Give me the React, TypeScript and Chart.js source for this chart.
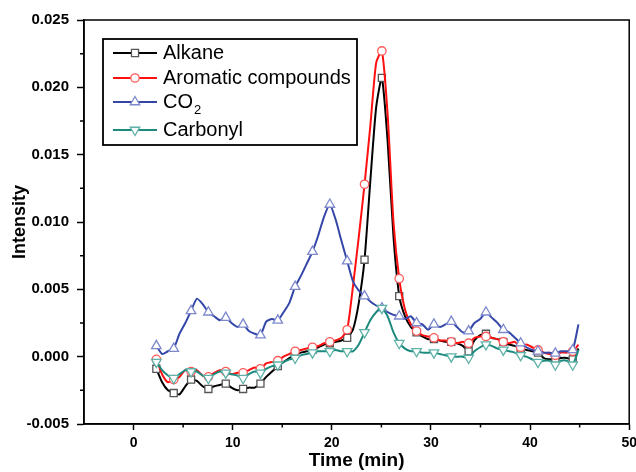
import React, { useEffect, useRef } from 'react';
import { Chart, registerables } from 'chart.js';
import { drawPoint } from 'chart.js/helpers';

Chart.register(...registerables);

const TIME = [
  2.30, 2.88, 3.47, 4.05, 4.63, 5.22, 5.80, 6.38, 6.97, 7.55,
  8.13, 8.72, 9.30, 9.88, 10.47, 11.05, 11.63, 12.22, 12.80, 13.38,
  13.97, 14.55, 15.13, 15.72, 16.30, 16.88, 17.47, 18.05, 18.63, 19.22,
  19.80, 20.38, 20.97, 21.55, 22.13, 22.72, 23.30, 23.88, 24.47, 25.05,
  25.63, 26.22, 26.80, 27.38, 27.97, 28.55, 29.13, 29.72, 30.30, 30.88,
  31.47, 32.05, 32.63, 33.22, 33.80, 34.38, 34.97, 35.55, 36.13, 36.72,
  37.30, 37.88, 38.47, 39.05, 39.63, 40.22, 40.80, 41.38, 41.97, 42.55,
  43.13, 43.72, 44.30, 44.88,
];

const ALKANE = [
  -0.0009, -0.0019, -0.0025, -0.0027, -0.0028, -0.0022, -0.0017, -0.0018, -0.0022, -0.0024,
  -0.0022, -0.0021, -0.0020, -0.0023, -0.0025, -0.0024, -0.0023, -0.0023, -0.0020, -0.0015,
  -0.0011, -0.0007, -0.0004, -0.0001, 0.0002, 0.0003, 0.0004, 0.0005, 0.0007, 0.0009,
  0.0010, 0.0011, 0.0012, 0.0014, 0.0020, 0.0040, 0.0072, 0.0130, 0.0185, 0.0207,
  0.0160, 0.0089, 0.0045, 0.0030, 0.0022, 0.0018, 0.0015, 0.0013, 0.0013, 0.0012,
  0.0011, 0.0011, 0.0010, 0.0008, 0.0004, 0.0012, 0.0016, 0.0017, 0.0014, 0.0013,
  0.0011, 0.0009, 0.0008, 0.0006, 0.0005, 0.0004, 0.0003, -0.0001, -0.0002, -0.0002,
  -0.0001, -0.0001, -0.0002, 0.0006,
];

const AROMATIC = [
  -0.0002, -0.0013, -0.0019, -0.0017, -0.0015, -0.0010, -0.0011, -0.0010, -0.0014, -0.0015,
  -0.0012, -0.0010, -0.0011, -0.0013, -0.0012, -0.0012, -0.0010, -0.0008, -0.0009, -0.0005,
  -0.0004, -0.0003, 0.0000, 0.0002, 0.0004, 0.0005, 0.0006, 0.0007, 0.0008, 0.0010,
  0.0011, 0.0012, 0.0014, 0.0020, 0.0052, 0.0089, 0.0128, 0.0171, 0.0218, 0.0227,
  0.0180, 0.0100, 0.0058, 0.0035, 0.0024, 0.0019, 0.0016, 0.0015, 0.0014, 0.0012,
  0.0012, 0.0011, 0.0010, 0.0011, 0.0010, 0.0014, 0.0015, 0.0015, 0.0014, 0.0013,
  0.0011, 0.0010, 0.0011, 0.0007, 0.0009, 0.0007, 0.0005, 0.0003, 0.0002, 0.0001,
  0.0003, 0.0003, 0.0004, 0.0009,
];

const CO2 = [
  0.0008, 0.0002, 0.0004, 0.0006, 0.0017, 0.0025, 0.0034, 0.0043, 0.0039, 0.0033,
  0.0030, 0.0027, 0.0029, 0.0025, 0.0022, 0.0024, 0.0019, 0.0017, 0.0016, 0.0026,
  0.0028, 0.0027, 0.0033, 0.0040, 0.0052, 0.0060, 0.0069, 0.0078, 0.0090, 0.0104,
  0.0113, 0.0102, 0.0086, 0.0071, 0.0056, 0.0049, 0.0045, 0.0041, 0.0038, 0.0036,
  0.0033, 0.0031, 0.0030, 0.0028, 0.0030, 0.0025, 0.0024, 0.0020, 0.0024, 0.0022,
  0.0024, 0.0026, 0.0022, 0.0018, 0.0019, 0.0025, 0.0028, 0.0033, 0.0029, 0.0025,
  0.0020, 0.0018, 0.0014, 0.0010, 0.0007, 0.0005, 0.0004, 0.0003, 0.0003, 0.00025,
  0.0004, 0.0004, 0.0005, 0.0024,
];

const CARBONYL = [
  -0.0004, -0.0010, -0.0014, -0.0016, -0.0013, -0.0010, -0.0011, -0.0011, -0.0014, -0.0016,
  -0.0013, -0.0011, -0.0012, -0.0013, -0.0014, -0.0016, -0.0013, -0.0011, -0.0012, -0.0009,
  -0.0007, -0.0006, -0.0004, -0.0002, -0.0001, 0.0001, 0.0002, 0.0003, 0.0004, 0.0004,
  0.0004, 0.0005, 0.0004, 0.0004, 0.0004, 0.0009, 0.0018, 0.0027, 0.0033, 0.0036,
  0.0030, 0.0018, 0.0010, 0.0006, 0.0004, 0.0004, 0.0003, 0.0003, 0.0003, 0.0002,
  0.0001, 0.0000, 0.0000, 0.0000, -0.0001, 0.0004, 0.0007, 0.0009, 0.0008, 0.0006,
  0.0005, 0.0004, 0.0003, 0.0001, 0.0000, -0.0002, -0.0004, -0.0003, -0.0003, -0.0006,
  -0.0003, -0.0003, -0.0006, 0.0005,
];

const SERIES_LABELS = ['Alkane', 'Aromatic compounds', 'CO\u2082', 'Carbonyl'];
const LEGEND_MAIN = ['Alkane', 'Aromatic compounds', 'CO', 'Carbonyl'];
const LEGEND_SUB = ['', '', '2', ''];

const X_TICKS = [0, 10, 20, 30, 40, 50];
const X_MINOR = [5, 15, 25, 35, 45];
const Y_TICKS = [-0.005, 0, 0.005, 0.01, 0.015, 0.02, 0.025];
const Y_MINOR = [-0.0025, 0.0025, 0.0075, 0.0125, 0.0175, 0.0225];

const FONT = '"Liberation Sans", Arial, Helvetica, sans-serif';

const STYLES = [
  { color: '#000000', point: '#555555', style: 'rect', rotation: 0, radius: 5, order: 3 },
  { color: '#ff1010', point: '#ff5a5a', style: 'circle', rotation: 0, radius: 4.2, order: 2 },
  { color: '#3447a8', point: '#7d89cc', style: 'triangle', rotation: 0, radius: 5.5, order: 1 },
  { color: '#1d8a7e', point: '#5fb2a8', style: 'triangle', rotation: 180, radius: 5.5, order: 0 },
];

const SERIES = [ALKANE, AROMATIC, CO2, CARBONYL];

const framePlugin = {
  id: 'frameAndLegend',
  afterDraw(chart: any) {
    const ctx = chart.ctx;
    const a = chart.chartArea;
    const xs = chart.scales.x;
    const ys = chart.scales.y;
    ctx.save();
    ctx.strokeStyle = '#000';
    ctx.lineWidth = 1.5;
    ctx.strokeRect(a.left, a.top, a.right - a.left, a.bottom - a.top);
    // minor ticks
    ctx.beginPath();
    X_MINOR.forEach((v) => {
      const px = xs.getPixelForValue(v);
      ctx.moveTo(px, a.bottom);
      ctx.lineTo(px, a.bottom + 3.5);
    });
    Y_MINOR.forEach((v) => {
      const py = ys.getPixelForValue(v);
      ctx.moveTo(a.left, py);
      ctx.lineTo(a.left - 4, py);
    });
    ctx.stroke();

    // legend
    const bx = 103, by = 39, bw = 254, bh = 106;
    ctx.lineWidth = 1.8;
    ctx.strokeRect(bx, by, bw, bh);
    const rows = [53, 78, 102, 130];
    for (let i = 0; i < 4; i++) {
      const s = STYLES[i];
      const y = rows[i];
      ctx.strokeStyle = s.color;
      ctx.lineWidth = 2;
      ctx.beginPath();
      ctx.moveTo(113, y);
      ctx.lineTo(157, y);
      ctx.stroke();
      ctx.fillStyle = '#fff';
      ctx.strokeStyle = s.point;
      ctx.lineWidth = 1.3;
      drawPoint(ctx, { pointStyle: s.style, rotation: s.rotation, radius: s.radius, borderWidth: 1.3 }, 135, y);
      ctx.fillStyle = '#000';
      ctx.font = `20px ${FONT}`;
      ctx.textBaseline = 'middle';
      ctx.textAlign = 'left';
      ctx.fillText(LEGEND_MAIN[i], 163, y);
      if (LEGEND_SUB[i]) {
        const w = ctx.measureText(LEGEND_MAIN[i]).width;
        ctx.font = `13px ${FONT}`;
        ctx.fillText(LEGEND_SUB[i], 163 + w + 1, y + 8);
      }
    }
    ctx.restore();
  },
};

export default function App() {
  const ref = useRef<HTMLCanvasElement | null>(null);
  useEffect(() => {
    document.body.style.margin = '0';
    const canvas = ref.current;
    if (!canvas) return;
    const datasets = SERIES.map((vals, si) => {
      const s = STYLES[si];
      return {
        label: SERIES_LABELS[si],
        data: TIME.map((t, i) => ({ x: t, y: vals[i] })),
        borderColor: s.color,
        borderWidth: 2,
        backgroundColor: '#ffffff',
        pointBackgroundColor: '#ffffff',
        pointBorderColor: s.point,
        pointBorderWidth: 1.3,
        pointStyle: s.style,
        pointRotation: s.rotation,
        pointRadius: (c: any) => (c.dataIndex % 3 === 0 ? s.radius : 0),
        pointHoverRadius: 0,
        tension: 0.2,
        order: s.order,
        fill: false,
      };
    });
    const chart = new Chart(canvas, {
      type: 'line',
      data: { datasets } as any,
      plugins: [framePlugin],
      options: {
        responsive: false,
        animation: false,
        devicePixelRatio: 1,
        layout: { padding: { top: 20, right: 4, left: 0, bottom: 0 } },
        plugins: { legend: { display: false }, tooltip: { enabled: false } },
        scales: {
          x: {
            type: 'linear',
            min: -5,
            max: 50,
            afterBuildTicks: (s: any) => {
              s.ticks = X_TICKS.map((v) => ({ value: v }));
            },
            afterFit: (s: any) => {
              s.height = 48;
              s.paddingLeft = 0;
              s.paddingRight = 0;
            },
            ticks: {
              autoSkip: false,
              maxRotation: 0,
              padding: 5,
              color: '#000',
              font: { family: FONT, size: 14, weight: 'bold' },
              callback: (v: any) => String(v),
            },
            grid: {
              display: true,
              drawOnChartArea: false,
              drawTicks: true,
              tickLength: 6,
              tickWidth: 1.5,
              tickColor: '#000',
            },
            border: { display: true, color: '#000', width: 1.5 },
            title: {
              display: true,
              text: 'Time (min)',
              color: '#000',
              font: { family: FONT, size: 19, weight: 'bold' },
              padding: { top: 0, bottom: 0 },
            },
          },
          y: {
            type: 'linear',
            min: -0.005,
            max: 0.025,
            afterBuildTicks: (s: any) => {
              s.ticks = Y_TICKS.map((v) => ({ value: v }));
            },
            afterFit: (s: any) => {
              s.width = 84;
              s.paddingTop = 0;
              s.paddingBottom = 0;
            },
            ticks: {
              autoSkip: false,
              padding: 8,
              color: '#000',
              font: { family: FONT, size: 15, weight: 'bold' },
              callback: (v: any) => Number(v).toFixed(3),
            },
            grid: {
              display: true,
              drawOnChartArea: false,
              drawTicks: true,
              tickLength: 7,
              tickWidth: 1.5,
              tickColor: '#000',
            },
            border: { display: true, color: '#000', width: 1.5 },
            title: {
              display: true,
              text: 'Intensity',
              color: '#000',
              font: { family: FONT, size: 18, weight: 'bold' },
              padding: { top: 9, bottom: 0 },
            },
          },
        },
      } as any,
    });
    return () => chart.destroy();
  }, []);
  return (
    <div style={{ width: 636, height: 472 }}>
      <canvas ref={ref} width={636} height={472} style={{ display: 'block' }} />
    </div>
  );
}
